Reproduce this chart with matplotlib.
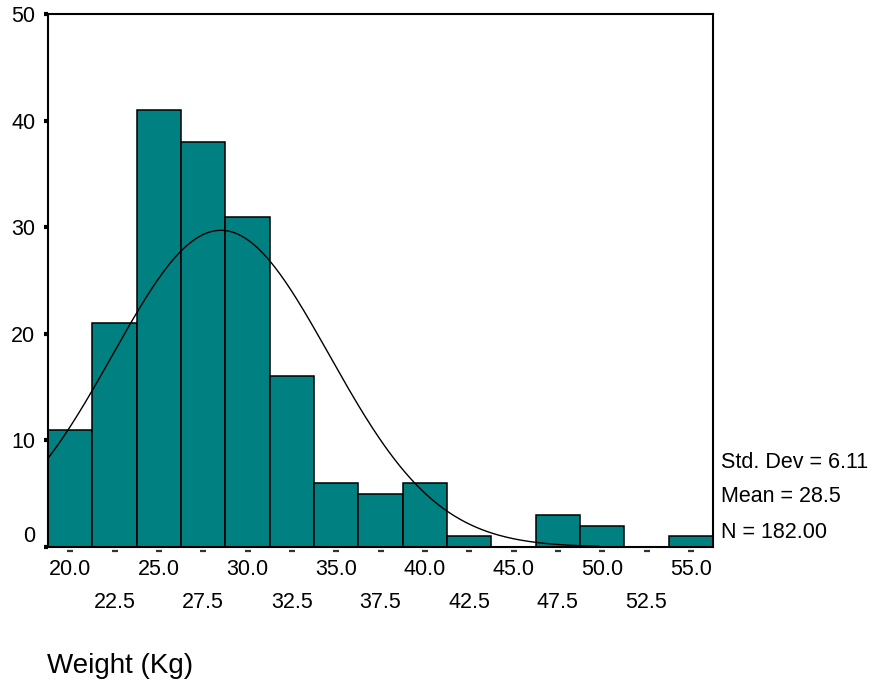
import numpy as np
import matplotlib
matplotlib.use("Agg")
import matplotlib.pyplot as plt
from matplotlib.transforms import blended_transform_factory

plt.rcParams['font.family'] = ['Liberation Sans', 'DejaVu Sans']

# histogram data (bin centers, counts)
centers = [20.0, 22.5, 25.0, 27.5, 30.0, 32.5, 35.0, 37.5, 40.0, 42.5, 45.0, 47.5, 50.0, 52.5, 55.0]
counts = [11, 21, 41, 38, 31, 16, 6, 5, 6, 1, 0, 3, 2, 0, 1]
bin_width = 2.5
std_dev = 6.11
mean = 28.5
n_total = 182.00
yticks = [0, 10, 20, 30, 40, 50]

teal = '#008080'

fig = plt.figure(figsize=(8.77, 6.84), dpi=100)
ax = fig.add_axes([48/877, 1-547/684, 665/877, 533/684])

ax.bar(centers, counts, width=bin_width, color=teal, edgecolor='black', linewidth=1.1, zorder=2)

# normal curve from mean / sd / N
xs = np.linspace(centers[0] - bin_width/2, 49.8, 300)
ys = n_total * bin_width / (std_dev * np.sqrt(2*np.pi)) * np.exp(-0.5*((xs - mean)/std_dev)**2)
ax.plot(xs, ys, color='black', linewidth=1.0, zorder=3)

ax.set_xlim(centers[0] - bin_width/2, centers[-1] + bin_width/2)
ax.set_ylim(0, 50)
for s in ax.spines.values():
    s.set_linewidth(1.5)

ax.set_yticks(yticks)
ax.set_yticklabels([str(v) for v in yticks])
ax.tick_params(axis='y', direction='out', length=3, width=3, pad=6, labelsize=15.5)
ax.get_yticklabels()[0].set_verticalalignment('bottom')

major = centers[0::2]
minor = centers[1::2]
ax.set_xticks(major)
ax.set_xticklabels(['%.1f' % v for v in major])
ax.set_xticks(minor, minor=True)
ax.set_xticklabels(['%.1f' % v for v in minor], minor=True)
ax.tick_params(axis='x', which='major', length=0, pad=8.5, labelsize=15.5)
ax.tick_params(axis='x', which='minor', length=0, pad=32.5, labelsize=15.5)

# small dash marks under each bin
tr = blended_transform_factory(ax.transData, ax.transAxes)
ax.plot(centers, [-0.007]*len(centers), linestyle='none', marker='_', markersize=5,
        markeredgewidth=1.6, color='#333333', transform=tr, clip_on=False)

fig.text(721/877, 1-468/684, 'Std. Dev = %.2f' % std_dev, fontsize=15.5, va='baseline')
fig.text(721/877, 1-502/684, 'Mean = %.1f' % mean, fontsize=15.5, va='baseline')
fig.text(721/877, 1-538/684, 'N = %.2f' % n_total, fontsize=15.5, va='baseline')

fig.text(47/877, 1-673/684, 'Weight (Kg)', fontsize=20, va='baseline')

fig.savefig('out.png', dpi=100)
